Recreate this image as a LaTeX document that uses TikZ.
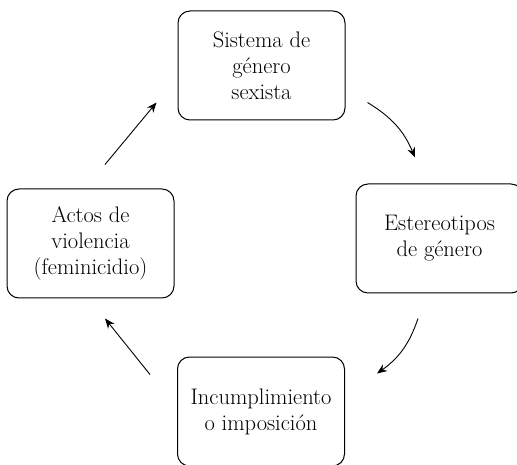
\documentclass[tikz,border=0pt]{standalone}
\usetikzlibrary{arrows.meta}
\begin{document}
\begin{tikzpicture}[
    x=1pt, y=1pt,
    stage/.style={draw, line width=1pt, rounded corners=12pt, align=center,
        minimum width=167pt, minimum height=109pt, inner sep=0pt,
        font=\fontsize{22.5}{26}\selectfont},
    arrow/.style={-{Stealth[length=10pt, width=8pt]}, line width=0.9pt}
]
    \useasboundingbox (0,0) rectangle (517,464);

    % Stages of the cycle
    \node[stage] (sistema) at (261.5,398.5) {Sistema de\\g\'enero\\sexista};
    \node[stage] (estereo) at (439.5,225.5) {Estereotipos\\de g\'enero};
    \node[stage] (incumple) at (261,52.5) {Incumplimiento\\o imposici\'on};
    \node[stage] (actos) at (90.5,220.5) {Actos de\\violencia\\(feminicidio)};

    % Cycle arrows
    \draw[arrow] ([shift={(22,18)}]sistema.south east)
        to[bend left=18] ([shift={(-24.5,26)}]estereo.north);
    \draw[arrow] ([shift={(-21.5,-25)}]estereo.south)
        to[bend left=18] ([shift={(32,-17)}]incumple.north east);
    \draw[arrow] ([shift={(-27,-18)}]incumple.north west)
        -- ([shift={(14.5,-20)}]actos.south);
    \draw[arrow] ([shift={(14.5,24)}]actos.north)
        -- ([shift={(-21,18)}]sistema.south west);
\end{tikzpicture}
\end{document}
